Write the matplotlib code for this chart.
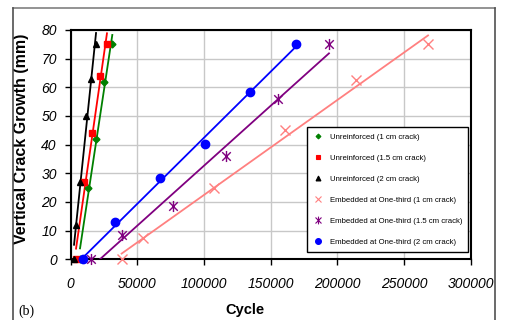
import numpy as np
import matplotlib
matplotlib.use('Agg')
import matplotlib.pyplot as plt
from matplotlib.path import Path
from matplotlib.lines import Line2D

plt.rcParams['font.family'] = ['Liberation Sans', 'DejaVu Sans']

# crack growth (mm) vs cycles
unr_1_x = [7000, 12700, 19200, 25000, 31200]
unr_1_y = [0, 25, 42, 62, 75]
unr_15_x = [4000, 10200, 16000, 21700, 27200]
unr_15_y = [0, 27, 44, 64, 75]
unr_2_x = [2500, 3700, 7000, 11500, 15200, 19000]
unr_2_y = [0, 12, 27, 50, 63, 75]
emb_1_x = [38200, 54000, 107400, 160700, 213900, 268000]
emb_1_y = [0, 7.5, 25, 45, 62.5, 75]
emb_15_x = [15000, 38200, 76900, 116200, 155500, 193700]
emb_15_y = [0, 8.5, 18.6, 36, 56, 75]
emb_2_x = [9500, 33200, 67300, 100600, 134600, 168700]
emb_2_y = [0, 13, 28.4, 40.2, 58.3, 75]

labels = ['Unreinforced (1 cm crack)', 'Unreinforced (1.5 cm crack)',
          'Unreinforced (2 cm crack)', 'Embedded at One-third (1 cm crack)',
          'Embedded at One-third (1.5 cm crack)', 'Embedded at One-third (2 cm crack)']

# excel style asterisk: X plus a vertical bar
star = Path([(-1, -1), (1, 1), (-1, 1), (1, -1), (0, -1.3), (0, 1.3)],
            [Path.MOVETO, Path.LINETO, Path.MOVETO, Path.LINETO, Path.MOVETO, Path.LINETO])

series = [
    (unr_1_x, unr_1_y, '#008000', 'D', 3.5),
    (unr_15_x, unr_15_y, '#ff0000', 's', 4.5),
    (unr_2_x, unr_2_y, 'black', '^', 5),
    (emb_1_x, emb_1_y, '#ff8080', 'x', 7),
    (emb_15_x, emb_15_y, '#800080', star, 8),
    (emb_2_x, emb_2_y, '#0000ff', 'o', 6),
]

fig = plt.figure(figsize=(5.1, 3.2), dpi=100)
ax = fig.add_axes([70.7 / 510, 1 - 259.3 / 320, 400 / 510, 229.3 / 320])

handles = []
for (x, y, c, m, s), lab in zip(series, labels):
    x = np.array(x, dtype=float)
    y = np.array(y, dtype=float)
    k, b = np.polyfit(x, y, 1)
    xs = np.array([x.min(), x.max()])
    ax.plot(xs, k * xs + b, color=c, lw=1.3, zorder=3)
    ax.plot(x, y, ls='none', marker=m, ms=s, color=c, mec=c, mew=1.0, zorder=4, clip_on=False)
    handles.append(Line2D([], [], ls='none', marker=m, ms=s * 0.7, color=c, mec=c, mew=0.8, label=lab))

ax.set_xlim(0, 300000)
ax.set_ylim(0, 80)
ax.set_xticks(np.arange(0, 300001, 50000))
ax.set_yticks(np.arange(0, 81, 10))
ax.grid(True, color='#c8c8c8', lw=1.0)
ax.set_axisbelow(True)
for sp in ax.spines.values():
    sp.set_linewidth(1.5)
    sp.set_color('black')
ax.tick_params(direction='out', length=4, width=1, labelsize=10, colors='black')
ax.tick_params(axis='x', pad=9)
ax.tick_params(axis='y', pad=6)
for t in ax.get_xticklabels() + ax.get_yticklabels():
    t.set_fontstyle('italic')

ax.set_xlabel('Cycle', fontsize=10.5, fontweight='bold')
ax.xaxis.set_label_coords((245 - 70.7) / 400, -(303 - 259.3) / 229.3)
ax.set_ylabel('Vertical Crack Growth (mm)', fontsize=11.5, fontweight='bold')
ax.yaxis.set_label_coords(-(70.7 - 29) / 400, (259.3 - 138.5) / 229.3)

leg = ax.legend(handles=handles, loc='upper left', bbox_to_anchor=((307 - 70.7) / 400, (259.3 - 127.3) / 229.3),
                fontsize=5.6, frameon=True, fancybox=False, edgecolor='black', framealpha=1,
                labelspacing=1.75, handlelength=1.2, handletextpad=1.0, borderpad=0.75, borderaxespad=0)
leg.get_frame().set_linewidth(1.0)

# outer chart frame
fc = '#505050'
fig.add_artist(Line2D([13 / 510, 495 / 510], [1 - 8 / 320, 1 - 8 / 320], color='#808080', lw=1.2))
fig.add_artist(Line2D([13 / 510, 13 / 510], [1 - 8 / 320, 0], color=fc, lw=1.2))
fig.add_artist(Line2D([495 / 510, 495 / 510], [1 - 8 / 320, 0], color=fc, lw=1.2))
fig.text(18 / 510, 1 - 305 / 320, '(b)', fontsize=10, family='Liberation Serif', va='top')

fig.savefig('out.png', dpi=100)
